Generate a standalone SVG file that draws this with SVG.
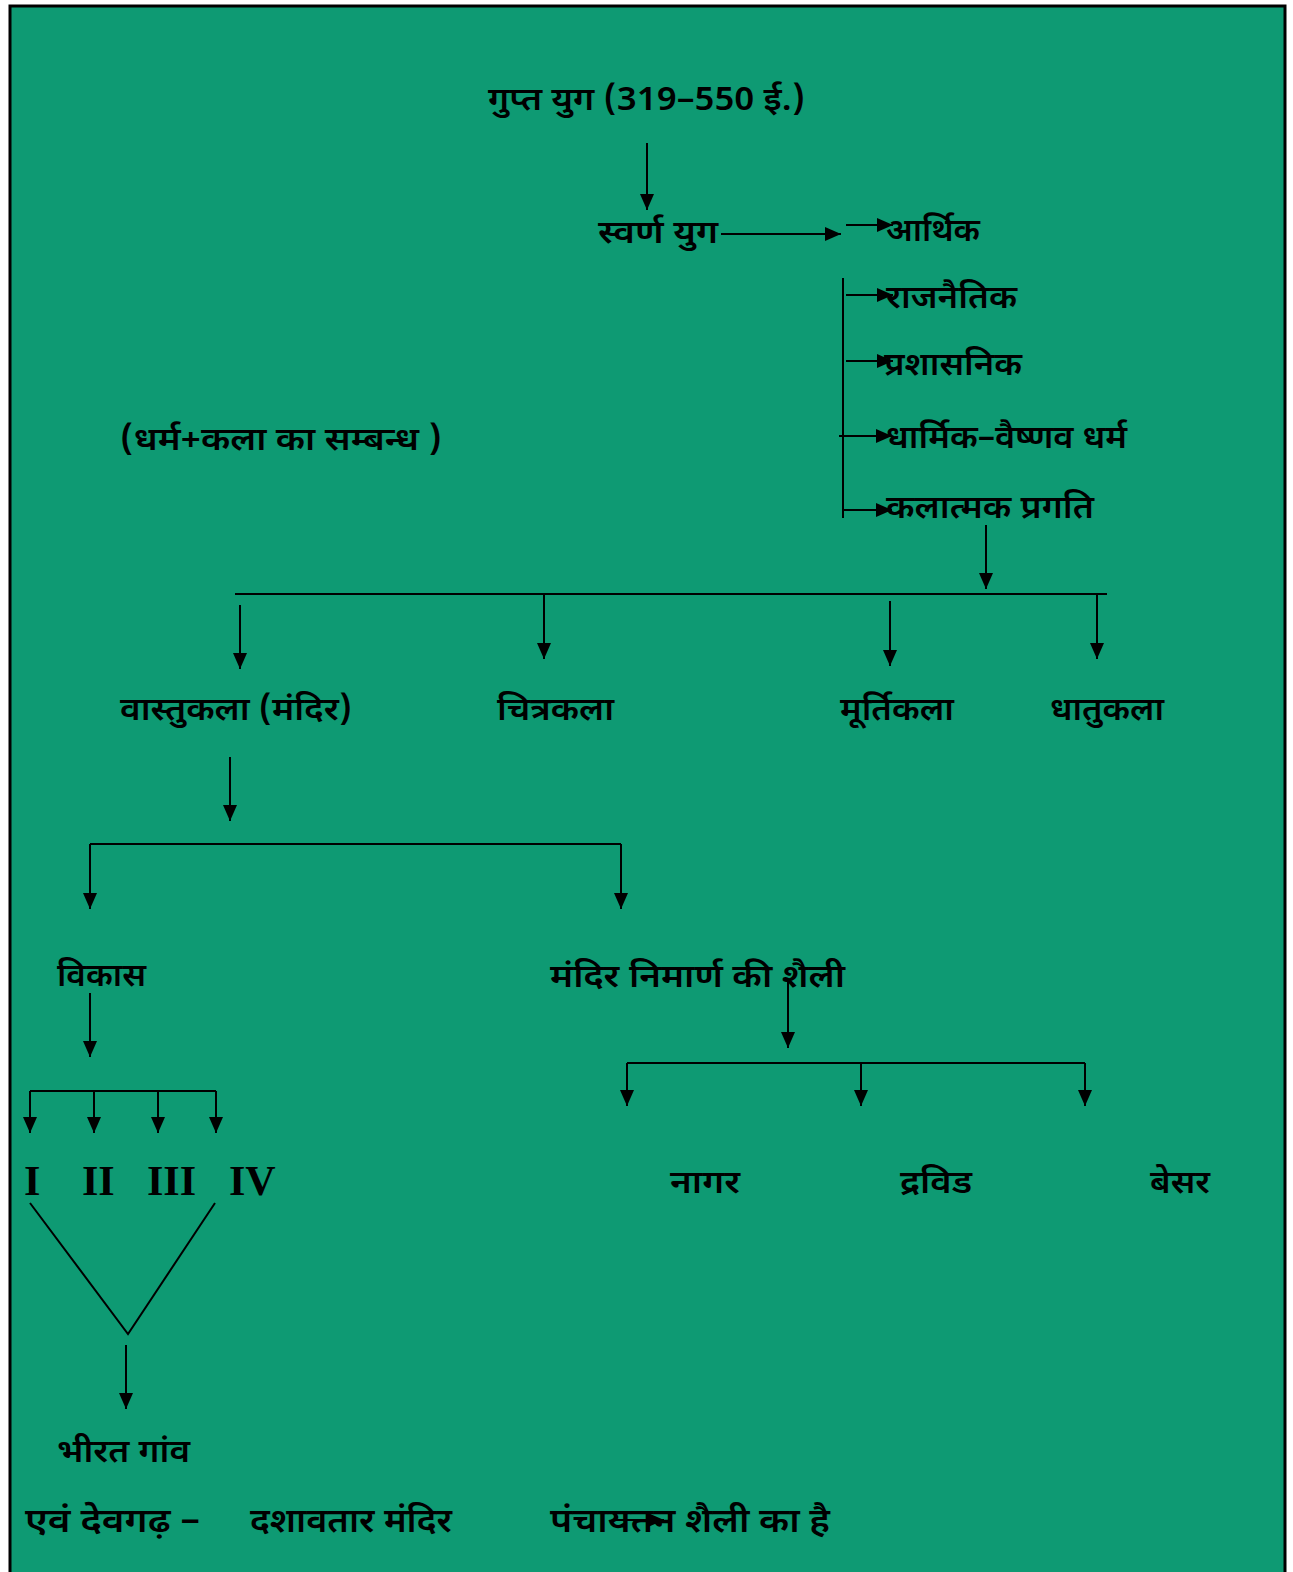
<svg xmlns="http://www.w3.org/2000/svg" width="1293" height="1572" viewBox="0 0 1293 1572">
<defs>
<style>
.t{font-family:"Noto Sans Devanagari","Noto Sans","Lohit Devanagari","Liberation Sans",sans-serif;font-size:32px;font-weight:600;fill:#000}
.b{font-size:34px}
.r{font-family:"Liberation Serif","Times New Roman",serif;font-size:42px;font-weight:bold;fill:#000}
.c line,.c polyline{stroke:#000;stroke-width:2;fill:none}
.a{marker-end:url(#ah)}
</style>
<marker id="ah" markerWidth="16" markerHeight="14" refX="16" refY="7" orient="auto" markerUnits="userSpaceOnUse"><path d="M0,0 L16,7 L0,14 z" fill="#000"/></marker>
</defs>
<rect x="0" y="0" width="1293" height="1572" fill="#fff"/>
<rect x="10" y="6" width="1275" height="1580" fill="#0e9a73" stroke="#000" stroke-width="3"/>

<g class="c" id="connectors">
<line class="a" x1="647" y1="143" x2="647" y2="210"/>
<line class="a" x1="721" y1="234" x2="841" y2="234"/>
<line class="a" x1="846" y1="225" x2="893" y2="225"/>
<line x1="843" y1="278" x2="843" y2="518"/>
<line class="a" x1="846" y1="295" x2="893" y2="295"/>
<line class="a" x1="846" y1="361" x2="893" y2="361"/>
<line class="a" x1="839" y1="436" x2="892" y2="436"/>
<line class="a" x1="843" y1="510" x2="892" y2="510"/>
<line class="a" x1="986" y1="525" x2="986" y2="589"/>
<line x1="235" y1="594" x2="1107" y2="594"/>
<line class="a" x1="240" y1="605" x2="240" y2="669"/>
<line class="a" x1="544" y1="594" x2="544" y2="659"/>
<line class="a" x1="890" y1="601" x2="890" y2="666"/>
<line class="a" x1="1097" y1="594" x2="1097" y2="659"/>
<line class="a" x1="230" y1="757" x2="230" y2="821"/>
<line x1="90" y1="844" x2="621" y2="844"/>
<line class="a" x1="90" y1="844" x2="90" y2="909"/>
<line class="a" x1="621" y1="844" x2="621" y2="909"/>
<line class="a" x1="90" y1="993" x2="90" y2="1057"/>
<line class="a" x1="788" y1="982" x2="788" y2="1048"/>
<line x1="627" y1="1063" x2="1085" y2="1063"/>
<line class="a" x1="627" y1="1063" x2="627" y2="1106"/>
<line class="a" x1="861" y1="1063" x2="861" y2="1106"/>
<line class="a" x1="1085" y1="1063" x2="1085" y2="1106"/>
<line x1="30" y1="1091" x2="216" y2="1091"/>
<line class="a" x1="30" y1="1091" x2="30" y2="1133"/>
<line class="a" x1="94" y1="1091" x2="94" y2="1133"/>
<line class="a" x1="158" y1="1091" x2="158" y2="1133"/>
<line class="a" x1="216" y1="1091" x2="216" y2="1133"/>
<polyline points="30,1203 128,1334 215,1203"/>
<line class="a" x1="126" y1="1345" x2="126" y2="1409"/>
<line class="a" x1="612" y1="1520" x2="664" y2="1520"/>
</g>

<g id="n-gupt"><text class="t" x="488" y="110" textLength="317" lengthAdjust="spacingAndGlyphs">गुप्त युग (319–550 ई.)</text></g>
<g id="n-swarn"><text class="t" x="598" y="243" textLength="120" lengthAdjust="spacingAndGlyphs">स्वर्ण युग</text></g>
<g id="n-arthik"><text class="t" x="886" y="241" textLength="94" lengthAdjust="spacingAndGlyphs">आर्थिक</text></g>
<g id="n-raj"><text class="t" x="886" y="308" textLength="131" lengthAdjust="spacingAndGlyphs">राजनैतिक</text></g>
<g id="n-pra"><text class="t" x="884" y="375" textLength="138" lengthAdjust="spacingAndGlyphs">प्रशासनिक</text></g>
<g id="n-dharmik"><text class="t" x="886" y="448" textLength="241" lengthAdjust="spacingAndGlyphs">धार्मिक–वैष्णव धर्म</text></g>
<g id="n-kala"><text class="t" x="886" y="518" textLength="208" lengthAdjust="spacingAndGlyphs">कलात्मक प्रगति</text></g>
<g id="n-sambandh"><text class="t" x="120" y="450" textLength="322" lengthAdjust="spacingAndGlyphs">(धर्म+कला का सम्बन्ध )</text></g>
<g id="n-vastu"><text class="t" x="120" y="720" textLength="232" lengthAdjust="spacingAndGlyphs">वास्तुकला (मंदिर)</text></g>
<g id="n-chitra"><text class="t" x="497" y="720" textLength="117" lengthAdjust="spacingAndGlyphs">चित्रकला</text></g>
<g id="n-murti"><text class="t" x="840" y="720" textLength="114" lengthAdjust="spacingAndGlyphs">मूर्तिकला</text></g>
<g id="n-dhatu"><text class="t" x="1050" y="720" textLength="114" lengthAdjust="spacingAndGlyphs">धातुकला</text></g>
<g id="n-vikas"><text class="t" x="57" y="986" textLength="89" lengthAdjust="spacingAndGlyphs">विकास</text></g>
<g id="n-shaili"><text class="t" x="550" y="987" textLength="295" lengthAdjust="spacingAndGlyphs">मंदिर निमार्ण की शैली</text></g>
<g id="n-nagar"><text class="t" x="670" y="1193" textLength="70" lengthAdjust="spacingAndGlyphs">नागर</text></g>
<g id="n-dravid"><text class="t" x="900" y="1193" textLength="72" lengthAdjust="spacingAndGlyphs">द्रविड</text></g>
<g id="n-besar"><text class="t" x="1150" y="1193" textLength="60" lengthAdjust="spacingAndGlyphs">बेसर</text></g>
<g id="n-roman">
<text class="r" x="24" y="1195">I</text>
<text class="r" x="82" y="1195">II</text>
<text class="r" x="147" y="1195">III</text>
<text class="r" x="229" y="1195">IV</text>
</g>
<g id="n-bhirat"><text class="t" x="57" y="1462" textLength="133" lengthAdjust="spacingAndGlyphs">भीरत गांव</text></g>
<g id="n-bottom">
<text class="t b" x="25" y="1532" textLength="175" lengthAdjust="spacingAndGlyphs">एवं देवगढ़ –</text>
<text class="t b" x="250" y="1532" textLength="202" lengthAdjust="spacingAndGlyphs">दशावतार मंदिर</text>
<text class="t b" x="550" y="1532" textLength="280" lengthAdjust="spacingAndGlyphs">पंचायतन शैली का है</text>
</g>
</svg>
